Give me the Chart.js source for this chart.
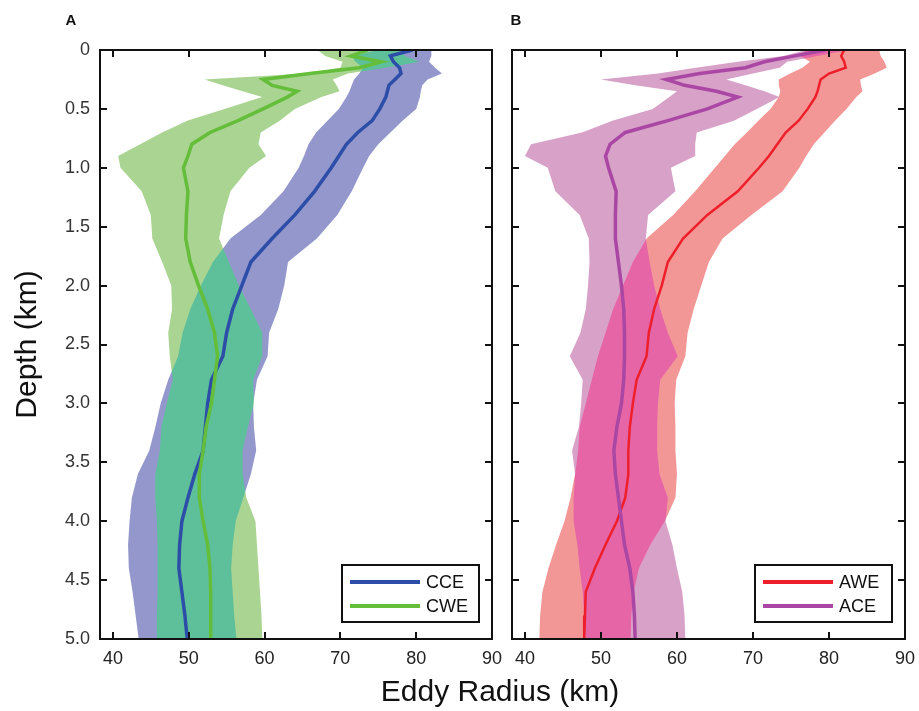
<!DOCTYPE html>
<html lang="en">
<head>
  <meta charset="UTF-8">
  <title>Eddy Radius vs Depth</title>
  <script src="https://cdn.jsdelivr.net/npm/chart.js@4"></script>
  <style>
    html, body { margin: 0; padding: 0; background: #fff; }
    #wrap { position: relative; width: 919px; height: 711px; }
    #wrap canvas { position: absolute; left: 0; top: 0; }
  </style>
</head>
<body>
  <div id="wrap">
    <canvas id="panelA" width="919" height="711"></canvas>
    <canvas id="panelB" width="919" height="711"></canvas>
  </div>
  <script>
    // depth levels (km) shared by every profile
    const depths = [0, 0.05, 0.1, 0.15, 0.2, 0.25, 0.3, 0.35, 0.4, 0.5, 0.6, 0.7, 0.8, 0.9, 1.0,
      1.2, 1.4, 1.6, 1.8, 2.0, 2.2, 2.4, 2.6, 2.8, 3.0, 3.2, 3.4, 3.6, 3.8, 4.0, 4.2, 4.4, 4.6, 4.8, 5.0];
    const xTicks = [40, 50, 60, 70, 80, 90];
    const yTicks = [0, 0.5, 1.0, 1.5, 2.0, 2.5, 3.0, 3.5, 4.0, 4.5, 5.0];

    // Panel A
    const cceMean = [79.5, 76.6, 77.0, 77.8, 78.0, 77.2, 76.4, 76.2, 76.0, 75.2, 74.2, 72.3, 70.8, 69.8, 68.8,
      66.6, 64.0, 61.0, 58.2, 57.0, 55.8, 55.0, 54.5, 53.0, 52.5, 52.2, 51.9, 50.8, 49.9, 49.1, 48.8, 48.7, 49.1, 49.5, 49.8];
    const cceLo = [75.0, 71.5, 72.0, 73.0, 72.5, 71.8, 71.5, 71.2, 70.8, 69.8, 68.3, 66.8, 65.8, 65.2, 64.5,
      62.5, 59.5, 55.5, 53.2, 51.6, 50.2, 49.2, 48.6, 47.3, 46.3, 45.6, 44.8, 43.3, 42.5, 42.2, 42.0, 42.1, 42.6, 43.0, 43.4];
    const cceHi = [82.0, 82.0, 81.7, 82.5, 83.4, 81.5, 80.8, 80.6, 80.5, 80.0, 78.2, 76.6, 75.0, 73.8, 73.0,
      71.5, 69.6, 66.9, 63.1, 62.6, 61.8, 60.6, 60.4, 59.0, 58.5, 58.6, 58.9, 58.2, 57.2, 56.2, 55.8, 55.6, 55.8, 56.0, 56.3];
    const cweMean = [73.6, 71.4, 75.4, 72.5, 66.0, 59.8, 61.0, 64.3, 63.0, 59.8, 56.5, 52.8, 50.4, 49.9, 49.3,
      49.9, 49.7, 49.6, 50.2, 51.3, 52.5, 53.4, 53.8, 53.4, 53.0, 52.3, 51.9, 51.4, 51.4, 51.9, 52.5, 52.8, 52.9, 52.9, 52.9];
    const cweLo = [67.0, 68.0, 70.3, 70.0, 65.4, 52.1, 54.5, 57.1, 59.7, 54.7, 49.8, 46.5, 43.6, 40.7, 41.0,
      43.8, 45.0, 45.2, 46.5, 47.7, 47.8, 47.3, 47.5, 47.9, 47.1, 46.4, 46.2, 45.6, 45.6, 45.8, 45.9, 45.9, 45.9, 45.8, 45.8];
    const cweHi = [77.8, 78.5, 80.4, 76.0, 71.0, 69.0, 69.5, 69.9, 67.5, 64.0, 62.0, 59.5, 59.2, 60.2, 58.0,
      55.5, 54.6, 54.0, 55.3, 56.6, 58.2, 59.7, 59.7, 58.5, 58.6, 57.8, 57.1, 57.1, 57.6, 58.8, 59.0, 59.2, 59.4, 59.6, 59.7];

    // Panel B
    const aweMean = [82.0, 81.6, 82.0, 82.2, 80.0, 78.9, 78.7, 78.5, 78.2, 77.2, 76.0, 74.3, 73.2, 72.1, 70.8,
      68.0, 64.0, 60.8, 58.8, 58.0, 57.0, 56.3, 56.0, 54.7, 54.2, 53.8, 53.6, 53.6, 53.2, 52.1, 50.6, 49.2, 48.0, 47.9, 47.8];
    const aweLo = [77.0, 76.2, 77.5, 76.5, 74.9, 73.4, 73.4, 73.6, 73.4, 72.3, 70.7, 69.2, 67.6, 66.3, 65.0,
      62.4, 59.5, 56.0, 54.2, 52.9, 51.6, 50.6, 49.6, 48.8, 48.0, 47.2, 47.0, 46.6, 46.0, 45.2, 44.1, 43.1, 42.3, 42.0, 41.9];
    const aweHi = [86.6, 86.8, 87.3, 87.6, 86.0, 84.1, 84.2, 84.4, 83.6, 82.3, 80.8, 79.4, 78.0, 77.0, 76.1,
      73.9, 69.8, 66.0, 64.2, 63.2, 62.2, 61.4, 61.1, 59.9, 59.7, 59.8, 59.8, 60.0, 59.8, 58.4, 56.5, 55.0, 54.3, 54.0, 53.9];
    const aceMean = [79.5, 75.5, 71.5, 69.0, 63.0, 58.6, 61.0, 65.2, 68.0, 64.0, 58.8, 53.2, 51.2, 50.6, 51.0,
      52.0, 51.9, 51.9, 52.3, 52.7, 53.0, 53.1, 53.1, 53.0, 52.7, 52.1, 51.7, 51.9, 52.3, 52.7, 53.1, 53.8, 54.2, 54.4, 54.5];
    const aceLo = [77.0, 74.0, 68.0, 62.5, 57.5, 50.0, 54.5, 60.0, 59.0, 56.8, 51.5, 47.5, 40.8, 40.0, 43.0,
      44.0, 47.2, 48.4, 48.5, 48.3, 48.0, 47.3, 45.9, 47.6, 47.4, 47.1, 46.2, 46.6, 46.4, 46.4, 46.9, 47.2, 47.6, 47.8, 48.0];
    const aceHi = [82.5, 78.5, 74.5, 73.5, 70.0, 66.5, 69.0, 71.5, 73.5, 70.5, 67.5, 62.6, 62.4, 62.4, 59.2,
      59.8, 56.2, 55.9, 56.4, 57.0, 57.8, 58.8, 60.1, 57.8, 57.5, 57.4, 57.4, 57.7, 58.8, 58.5, 59.4, 60.0, 60.7, 61.0, 61.1];

    Chart.defaults.font.family = '"Liberation Sans", Arial, Helvetica, sans-serif';

    const toPoints = vals => depths.map((d, i) => ({ x: vals[i], y: d }));

    // band edges: points only, never stroked (the band plugin fills between them)
    const edge = (label, vals) => ({
      label, data: toPoints(vals), showLine: false, pointRadius: 0, borderWidth: 0, inLegend: false
    });
    const profile = (label, vals, color, width, order) => ({
      label, data: toPoints(vals), borderColor: color, backgroundColor: color,
      borderWidth: width, pointRadius: 0, fill: false, tension: 0, order, inLegend: true
    });

    // fills the two spreads, with a distinct colour where they overlap,
    // then draws the frame, inward ticks, legend box and panel texts
    const panelPlugin = {
      id: 'panel',
      beforeDatasetsDraw(chart, args, opts) {
        const { ctx, chartArea: a } = chart;
        const shape = (lo, hi) => {
          const p = new Path2D();
          const l = chart.getDatasetMeta(lo).data;
          const h = chart.getDatasetMeta(hi).data;
          l.forEach((pt, i) => i ? p.lineTo(pt.x, pt.y) : p.moveTo(pt.x, pt.y));
          for (let i = h.length - 1; i >= 0; i--) p.lineTo(h[i].x, h[i].y);
          p.closePath();
          return p;
        };
        const back = shape(opts.back.lo, opts.back.hi);
        const front = shape(opts.front.lo, opts.front.hi);
        ctx.save();
        ctx.beginPath();
        ctx.rect(a.left, a.top, a.width, a.height);
        ctx.clip();
        ctx.fillStyle = opts.back.color;
        ctx.fill(back);
        ctx.globalCompositeOperation = 'source-atop';
        ctx.fillStyle = opts.overlap;
        ctx.fill(front);
        ctx.globalCompositeOperation = 'destination-over';
        ctx.fillStyle = opts.front.color;
        ctx.fill(front);
        ctx.restore();
      },
      afterDraw(chart, args, opts) {
        const { ctx, chartArea: a, scales } = chart;
        ctx.save();
        ctx.strokeStyle = '#111';
        ctx.lineWidth = 2;
        ctx.strokeRect(a.left, a.top, a.width, a.height);

        const tl = 7;
        ctx.beginPath();
        scales.x.ticks.forEach(t => {
          const px = Math.round(scales.x.getPixelForValue(t.value));
          ctx.moveTo(px, a.bottom); ctx.lineTo(px, a.bottom - tl);
          ctx.moveTo(px, a.top); ctx.lineTo(px, a.top + tl);
        });
        scales.y.ticks.forEach(t => {
          const py = Math.round(scales.y.getPixelForValue(t.value));
          ctx.moveTo(a.left, py); ctx.lineTo(a.left + tl, py);
          ctx.moveTo(a.right, py); ctx.lineTo(a.right - tl, py);
        });
        ctx.stroke();

        // legend box, lower right
        const items = chart.data.datasets.filter(d => d.inLegend);
        const w = 137, h = 57;
        const bx = a.right - 13 - w, by = a.bottom - 17 - h;
        ctx.fillStyle = '#fff';
        ctx.fillRect(bx, by, w, h);
        ctx.strokeRect(bx, by, w, h);
        ctx.font = '18px "Liberation Sans", Arial, sans-serif';
        ctx.textBaseline = 'middle';
        ctx.textAlign = 'left';
        items.forEach((d, i) => {
          const y = by + 17 + i * 24;
          ctx.strokeStyle = d.borderColor;
          ctx.lineWidth = 4;
          ctx.beginPath();
          ctx.moveTo(bx + 8, y); ctx.lineTo(bx + 78, y);
          ctx.stroke();
          ctx.fillStyle = '#111';
          ctx.fillText(d.label, bx + 84, y + 1);
        });

        ctx.fillStyle = '#111';
        ctx.font = 'bold 15px "Liberation Sans", Arial, sans-serif';
        ctx.textAlign = 'center';
        ctx.fillText(opts.letter, opts.letterX, 21);
        if (opts.xTitle) {
          ctx.font = '30px "Liberation Sans", Arial, sans-serif';
          ctx.fillText(opts.xTitle, 500, 693);
        }
        ctx.restore();
      }
    };

    function makeScales(showY) {
      return {
        x: {
          type: 'linear', min: 38.3, max: 90,
          afterBuildTicks: s => { s.ticks = xTicks.map(v => ({ value: v })); },
          afterFit: s => { s.height = 72; s.paddingLeft = 0; s.paddingRight = 0; },
          grid: { display: false, drawTicks: false },
          border: { display: false },
          ticks: { padding: 9, color: '#222', font: { size: 18 }, maxRotation: 0, autoSkip: false }
        },
        y: {
          type: 'linear', reverse: true, min: 0, max: 5,
          afterBuildTicks: s => { s.ticks = yTicks.map(v => ({ value: v })); },
          afterFit: s => { s.width = showY ? 100 : 512; s.paddingTop = 0; s.paddingBottom = 0; },
          grid: { display: false, drawTicks: false },
          border: { display: false },
          ticks: {
            display: showY, padding: 10, color: '#333', font: { size: 18 }, autoSkip: false,
            callback: v => v === 0 ? '0' : v.toFixed(1)
          },
          title: {
            display: showY, text: 'Depth (km)', color: '#111',
            font: { size: 30 }, padding: { top: 10, bottom: 0 }
          }
        }
      };
    }

    new Chart(document.getElementById('panelA'), {
      type: 'line',
      data: {
        datasets: [
          edge('CCE low', cceLo),
          edge('CCE high', cceHi),
          edge('CWE low', cweLo),
          edge('CWE high', cweHi),
          profile('CCE', cceMean, '#2d4ea8', 3.5, 1),
          profile('CWE', cweMean, '#64be3a', 3.5, 0)
        ]
      },
      options: {
        indexAxis: 'y',
        responsive: false,
        animation: false,
        events: [],
        layout: { padding: { top: 50, right: 427, bottom: 0, left: 0 } },
        scales: makeScales(true),
        plugins: {
          legend: { display: false },
          tooltip: { enabled: false },
          panel: {
            back: { lo: 0, hi: 1, color: '#9497cc' },
            front: { lo: 2, hi: 3, color: '#a9d491' },
            overlap: '#5dc09b',
            letter: 'A',
            letterX: 71,
            xTitle: 'Eddy Radius (km)'
          }
        }
      },
      plugins: [panelPlugin]
    });

    new Chart(document.getElementById('panelB'), {
      type: 'line',
      data: {
        datasets: [
          edge('AWE low', aweLo),
          edge('AWE high', aweHi),
          edge('ACE low', aceLo),
          edge('ACE high', aceHi),
          profile('AWE', aweMean, '#ee1f2a', 2.5, 1),
          profile('ACE', aceMean, '#aa46a4', 3.5, 0)
        ]
      },
      options: {
        indexAxis: 'y',
        responsive: false,
        animation: false,
        events: [],
        layout: { padding: { top: 50, right: 14, bottom: 0, left: 0 } },
        scales: makeScales(false),
        plugins: {
          legend: { display: false },
          tooltip: { enabled: false },
          panel: {
            back: { lo: 0, hi: 1, color: '#f39696' },
            front: { lo: 2, hi: 3, color: '#d8a1c8' },
            overlap: '#e665a6',
            letter: 'B',
            letterX: 516
          }
        }
      },
      plugins: [panelPlugin]
    });
  </script>
</body>
</html>
